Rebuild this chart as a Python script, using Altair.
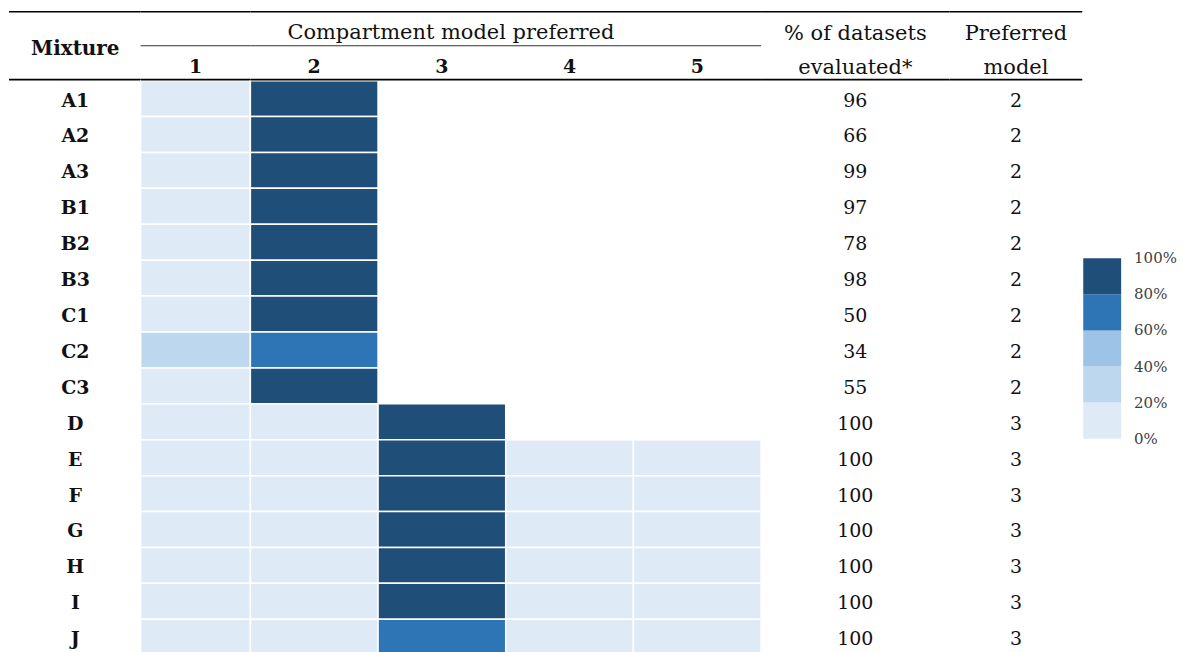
import altair as alt
import pandas as pd

# ---------------- data ----------------
mixtures = ["A1", "A2", "A3", "B1", "B2", "B3", "C1", "C2", "C3",
            "D", "E", "F", "G", "H", "I", "J"]
# share (%) of datasets for which each compartment model was preferred (None = not evaluated)
model_1 = [4, 6, 3, 5, 8, 4, 10, 30, 9, 2, 1, 2, 1, 2, 1, 3]
model_2 = [96, 94, 97, 95, 92, 96, 90, 70, 91, 3, 2, 3, 2, 3, 2, 5]
model_3 = [None] * 9 + [95, 93, 94, 95, 92, 94, 72]
model_4 = [None] * 9 + [None, 3, 1, 2, 3, 2, 12]
model_5 = [None] * 9 + [None, 1, 0, 0, 0, 1, 8]
pct_evaluated = [96, 66, 99, 97, 78, 98, 50, 34, 55, 100, 100, 100, 100, 100, 100, 100]
preferred_model = [2, 2, 2, 2, 2, 2, 2, 2, 2, 3, 3, 3, 3, 3, 3, 3]
model_labels = ["1", "2", "3", "4", "5"]
# colour-bin boundaries (0 %, 20 %, ... 100 %) and the colour of each bin
legend_thresholds = [0, 0.2, 0.4, 0.6, 0.8, 1.0001]
legend_colors = ["#DEEBF7", "#BDD7EE", "#9DC3E6", "#2E75B6", "#1F4E79"]

# ---------------- tables ----------------
series = [model_1, model_2, model_3, model_4, model_5]
heat = pd.DataFrame([
    {"Mixture": m, "Model": model_labels[j], "Share": series[j][i] / 100}
    for j in range(5) for i, m in enumerate(mixtures) if series[j][i] is not None
])
rows = pd.DataFrame({"Mixture": mixtures, "Pct": pct_evaluated, "Pref": preferred_model})
models = pd.DataFrame({"Model": model_labels})

FONT = "DejaVu Serif"
FS = 19
FSH = 21
ROW = 36
H = ROW * len(mixtures)
BAND = 181 / 5  # legend band height

yenc = alt.Y("Mixture:N", sort=mixtures, axis=None,
             scale=alt.Scale(paddingInner=0, paddingOuter=0))
# threshold scale: outer (below 0 / above 100 %) bins are transparent so the
# discrete legend shows exactly five bands with labels at every boundary
color = alt.Color("Share:Q",
                  scale=alt.Scale(type="threshold", domain=legend_thresholds,
                                  range=["transparent"] + legend_colors + ["transparent"]),
                  legend=alt.Legend(title=None, format=".0%", direction="vertical", type="gradient",
                                    labelOverlap=False, padding=0, offset=0,
                                    orient="none", legendX=1077, legendY=178 - BAND,
                                    gradientLength=181 + 2 * BAND, gradientThickness=38,
                                    gradientStrokeWidth=0,
                                    labelFont=FONT, labelFontSize=15, labelColor="#404040",
                                    labelOffset=13))


def hrule(width, yv, sw=1.6, col="#000"):
    return alt.Chart(models.head(1)).mark_rule(color=col, strokeWidth=sw).encode(
        x=alt.value(0), x2=alt.value(width), y=alt.value(yv))


TOP, MID, BOT = -69, -35, -1

# Mixture column
W0 = 132
mix_text = alt.Chart(rows).mark_text(font=FONT, fontSize=FS, fontWeight="bold", color="#111", dy=2).encode(
    y=yenc, x=alt.value(W0 / 2 + 0.5), text="Mixture:N")
mix_head = alt.Chart(models.head(1)).mark_text(font=FONT, fontSize=20, fontWeight="bold", color="#111").encode(
    x=alt.value(W0 / 2 + 0.5), y=alt.value(-32), text=alt.value("Mixture"))
p_mix = alt.layer(mix_text, mix_head, hrule(W0, TOP), hrule(W0, BOT)).properties(width=W0, height=H)


def heat_panel(width, mods, with_title):
    xenc = alt.X("Model:N", axis=None, sort=mods, scale=alt.Scale(domain=mods, paddingInner=0, paddingOuter=0))
    cells = alt.Chart(heat).transform_filter(
        alt.FieldOneOfPredicate(field="Model", oneOf=mods)).mark_rect(
        stroke="white", strokeWidth=1.5).encode(x=xenc, y=yenc, color=color)
    heads = alt.Chart(models).transform_filter(
        alt.FieldOneOfPredicate(field="Model", oneOf=mods)).mark_text(
        font=FONT, fontSize=FS, fontWeight="bold", color="#111").encode(
        x=xenc, y=alt.value(-14), text="Model:N")
    layers = [cells, heads, hrule(width, TOP), hrule(width, BOT), hrule(width, MID, 1.2, "#333")]
    if with_title:
        # centred over both heat-map panels (110 px + 512 px)
        layers.append(alt.Chart(models.head(1)).mark_text(font=FONT, fontSize=FSH, color="#111").encode(
            x=alt.value((110 + width) / 2 - 110), y=alt.value(-48),
            text=alt.value("Compartment model preferred")))
    return alt.layer(*layers).properties(width=width, height=H)


p_h1 = heat_panel(110, ["1"], False)
p_h2 = heat_panel(512, ["2", "3", "4", "5"], True)

W3 = 189
pct_text = alt.Chart(rows).mark_text(font=FONT, fontSize=FS, color="#111", dy=2).encode(
    y=yenc, x=alt.value(W3 / 2), text="Pct:Q")
pct_head = alt.Chart(models.head(1)).mark_text(font=FONT, fontSize=FSH, color="#111", lineHeight=34).encode(
    x=alt.value(W3 / 2), y=alt.value(-47), text=alt.value(["% of datasets", "evaluated*"]))
p_pct = alt.layer(pct_text, pct_head, hrule(W3, TOP), hrule(W3, BOT)).properties(width=W3, height=H)

W4 = 133
pref_text = alt.Chart(rows).mark_text(font=FONT, fontSize=FS, color="#111", dy=2).encode(
    y=yenc, x=alt.value(W4 / 2), text="Pref:Q")
pref_head = alt.Chart(models.head(1)).mark_text(font=FONT, fontSize=FSH, color="#111", lineHeight=34).encode(
    x=alt.value(W4 / 2), y=alt.value(-47), text=alt.value(["Preferred", "model"]))
p_pref = alt.layer(pref_text, pref_head, hrule(W4, TOP), hrule(W4, BOT)).properties(width=W4, height=H)

chart = alt.hconcat(p_mix, p_h1, p_h2, p_pct, p_pref, spacing=0, bounds="flush").properties(
    padding={"left": 0, "top": 2, "right": 0, "bottom": 0}, background="white"
).configure_view(strokeWidth=0, stroke=None)

chart.save("out.html", embed_options={"renderer": "svg", "actions": False})
